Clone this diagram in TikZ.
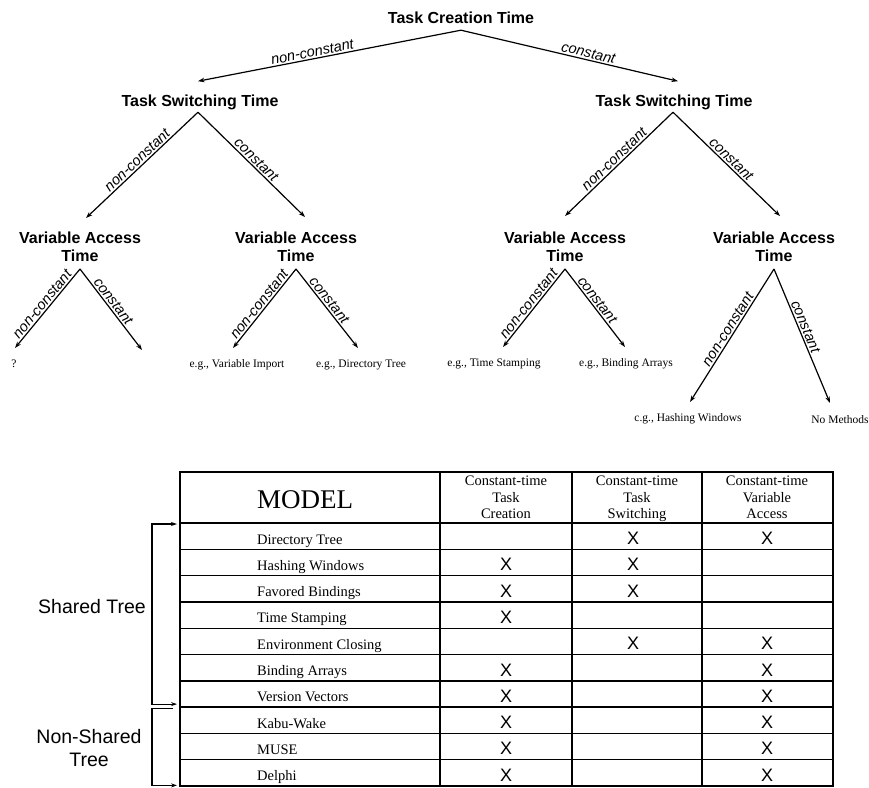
\documentclass[tikz,border=0pt]{standalone}
\usepackage{fontspec}
\setmainfont{Liberation Serif}
\setsansfont{Liberation Sans}
\usetikzlibrary{arrows.meta}

\begin{document}
\begin{tikzpicture}[x=1pt,y=-1pt,
  title/.style={font=\sffamily\bfseries\fontsize{16}{18}\selectfont, align=center, inner sep=0pt, text depth=0pt},
  branch/.style={line width=1.2pt, -{Stealth[length=6.5pt,width=4.5pt]}},
  lbl/.style={font=\sffamily\itshape\fontsize{14.5}{16}\selectfont, sloped, above, inner sep=1.5pt},
  leaf/.style={font=\fontsize{11.5}{13}\selectfont, inner sep=0pt, anchor=base},
  rowbox/.style={draw, line width=1.4pt, minimum width=653pt, minimum height=26.3pt, inner sep=0pt, outer sep=0pt},
  hdrbox/.style={draw, line width=2.2pt, minimum width=653pt, minimum height=51pt, inner sep=0pt, outer sep=0pt},
  colhead/.style={font=\fontsize{14.5}{16.5}\selectfont, align=center, inner sep=0pt, text depth=0pt, anchor=south},
  model/.style={font=\fontsize{14.5}{16}\selectfont, inner sep=0pt, anchor=base west},
  xmark/.style={font=\sffamily\fontsize{18}{20}\selectfont, inner sep=0pt, anchor=base},
  group/.style={font=\sffamily\fontsize{19.5}{23}\selectfont, align=center, inner sep=0pt, text depth=0pt},
  brk/.style={line width=1.2pt, {Stealth[length=6pt,width=4pt]}-{Stealth[length=6pt,width=4pt]}},
  brkend/.style={line width=1.2pt, -{Stealth[length=6pt,width=4pt]}}
]
\useasboundingbox (0,0) rectangle (869,787);
\fill[white] (0,0) rectangle (869,787);

% ---------------- decision tree ----------------
\node[title, anchor=base] (root) at (461,23) {Task Creation Time};
\node[title, anchor=base] (tsL) at (200,106) {Task Switching Time};
\node[title, anchor=base] (tsR) at (674,106) {Task Switching Time};

\node[title, anchor=south] (vaLL) at (80,262) {Variable Access\\Time};
\node[title, anchor=south] (vaLR) at (296,262) {Variable Access\\Time};
\node[title, anchor=south] (vaRL) at (565,262) {Variable Access\\Time};
\node[title, anchor=south] (vaRR) at (774,262) {Variable Access\\Time};

\node[leaf] (qm)  at (14,367)  {?};
\coordinate (llr) at (142,350);
\node[leaf] (lrA) at (237,367) {e.g., Variable Import};
\node[leaf] (lrB) at (361,367) {e.g., Directory Tree};
\node[leaf] (rlA) at (494,366) {e.g., Time Stamping};
\node[leaf] (rlB) at (626,366) {e.g., Binding Arrays};
\node[leaf] (rrA) at (688,421) {c.g., Hashing Windows};
\node[leaf] (rrB) at (840,423) {No Methods};

% task creation time
\draw[branch] ([yshift=-7pt]root.south) -- ([xshift=-2pt,yshift=25pt]tsL.south)
  node[lbl, pos=0.56] {non-constant};
\draw[branch] ([yshift=-7pt]root.south) -- ([xshift=4pt,yshift=25pt]tsR.south)
  node[lbl, pos=0.58] {constant};

% task switching time
\draw[branch] ([xshift=-2pt,yshift=-6pt]tsL.south) -- ([xshift=6pt,yshift=44pt]vaLL.south)
  node[lbl, pos=0.5] {non-constant};
\draw[branch] ([xshift=-2pt,yshift=-6pt]tsL.south) -- ([xshift=9pt,yshift=45pt]vaLR.south)
  node[lbl, pos=0.5] {constant};
\draw[branch] ([xshift=-1pt,yshift=-6pt]tsR.south) -- ([yshift=46pt]vaRL.south)
  node[lbl, pos=0.5] {non-constant};
\draw[branch] ([xshift=-1pt,yshift=-6pt]tsR.south) -- ([xshift=6pt,yshift=46pt]vaRR.south)
  node[lbl, pos=0.5] {constant};

% variable access time
\draw[branch] ([yshift=-7pt]vaLL.south) -- ([xshift=1pt,yshift=19pt]qm.base)
  node[lbl, pos=0.5] {non-constant};
\draw[branch] ([yshift=-7pt]vaLL.south) -- (llr)
  node[lbl, pos=0.45] {constant};
\draw[branch] ([yshift=-7pt]vaLR.south) -- ([xshift=-4pt,yshift=19pt]lrA.base)
  node[lbl, pos=0.5] {non-constant};
\draw[branch] ([yshift=-7pt]vaLR.south) -- ([xshift=-3pt,yshift=19pt]lrB.base)
  node[lbl, pos=0.45] {constant};
\draw[branch] ([yshift=-7pt]vaRL.south) -- ([xshift=9pt,yshift=19pt]rlA.base)
  node[lbl, pos=0.5] {non-constant};
\draw[branch] ([yshift=-7pt]vaRL.south) -- ([xshift=-1pt,yshift=19pt]rlB.base)
  node[lbl, pos=0.45] {constant};
\draw[branch] ([yshift=-7pt]vaRR.south) -- ([xshift=2pt,yshift=19pt]rrA.base)
  node[lbl, pos=0.48] {non-constant};
\draw[branch] ([yshift=-7pt]vaRR.south) -- ([xshift=-10pt,yshift=20pt]rrB.base)
  node[lbl, pos=0.45] {constant};

% ---------------- model table ----------------
\foreach \i in {1,...,10}
  \node[rowbox] (r\i) at (506.5,{523+26.3*(\i-0.5)}) {};
\node[hdrbox] (hdr) at (506.5,497.5) {};

\coordinate (c1) at (440,0);
\coordinate (c2) at (572,0);
\coordinate (c3) at (702,0);
\foreach \c in {c1,c2,c3}{
  \draw[line width=1.4pt] (\c |- hdr.south) -- (\c |- r10.south);
  \draw[line width=2pt] (\c |- hdr.north) -- (\c |- hdr.south);
}

\node[font=\fontsize{27}{30}\selectfont, inner sep=0pt, anchor=base west] (mhead) at (257,508) {MODEL};
\node[colhead] (h1) at (506,519) {Constant-time\\Task\\Creation};
\node[colhead] (h2) at (637,519) {Constant-time\\Task\\Switching};
\node[colhead] (h3) at (767,519) {Constant-time\\Variable\\Access};

\foreach \i/\nm/\a/\b/\c in {1/Directory Tree/0/1/1, 2/Hashing Windows/1/1/0,
    3/Favored Bindings/1/1/0, 4/Time Stamping/1/0/0, 5/Environment Closing/0/1/1,
    6/Binding Arrays/1/0/1, 7/Version Vectors/1/0/1, 8/Kabu-Wake/1/0/1,
    9/MUSE/1/0/1, 10/Delphi/1/0/1}{
  \node[model] (m\i) at (257,{523+26.3*(\i-1)+21}) {\nm};
  \ifnum\a=1 \node[xmark] (xa\i) at (506,{523+26.3*(\i-1)+21.5}) {X}; \fi
  \ifnum\b=1 \node[xmark] (xb\i) at (633,{523+26.3*(\i-1)+21.5}) {X}; \fi
  \ifnum\c=1 \node[xmark] (xc\i) at (767,{523+26.3*(\i-1)+21.5}) {X}; \fi
}

% ---------------- groupings ----------------
\node[group, anchor=base] (shared) at (92,613) {Shared Tree};
\node[group, anchor=south] (nonshared) at (89,767) {Non-Shared\\Tree};

\draw[brk] ([xshift=-3pt,yshift=-1pt]r1.north west) -- ++(-25,0)
  |- ([xshift=-3pt,yshift=3pt]r7.south west);
\draw[brkend] ([xshift=-7pt,yshift=-1pt]r8.north west) -- ++(-21,0)
  |- ([xshift=-3pt,yshift=0.6pt]r10.south west);
\end{tikzpicture}
\end{document}
